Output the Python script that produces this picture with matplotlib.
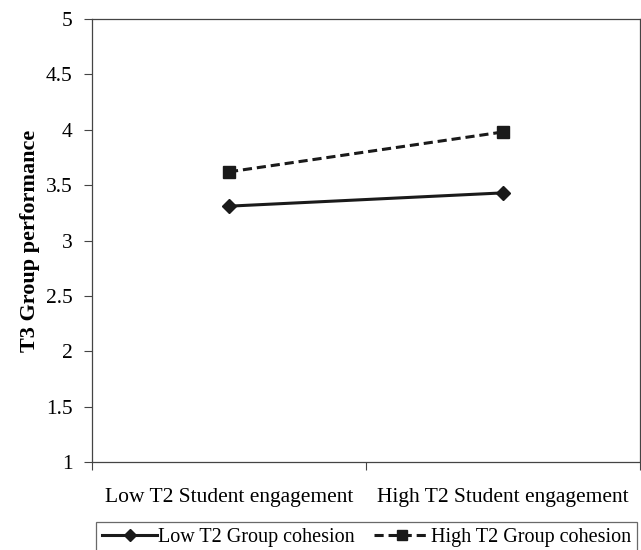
import matplotlib
matplotlib.use("Agg")
import matplotlib.pyplot as plt

categories = ["Low T2 Student engagement", "High T2 Student engagement"]
series_names = ["Low T2 Group cohesion", "High T2 Group cohesion"]
low_cohesion = [3.31, 3.43]
high_cohesion = [3.62, 3.98]
y_ticks = [1, 1.5, 2, 2.5, 3, 3.5, 4, 4.5, 5]
y_tick_labels = ["1", "1.5", "2", "2.5", "3", "3.5", "4", "4.5", "5"]

plt.rcParams['font.family'] = ['Liberation Serif', 'DejaVu Serif']

fig = plt.figure(figsize=(6.41, 5.5), dpi=100)
ax = fig.add_axes([92/641, 1-462/550, 1-92/641-1/641, (462-19)/550])

col = "#1a1a1a"
x = list(range(len(categories)))
ax.plot(x, low_cohesion, color=col, lw=2.2, marker='D', ms=7, label=series_names[0])
ax.plot(x, high_cohesion, color=col, lw=2.2, ls=(0, (3, 1.6)), marker='s', ms=8, label=series_names[1])

ax.set_ylim(1, 5)
ax.set_xlim(-0.5, 1.5)
ax.set_yticks(y_ticks)
ax.set_yticklabels(y_tick_labels, fontsize=15.5)
ax.set_xticks([-0.5, 0.5, 1.5])
ax.set_xticklabels([])
ax.set_xticks(x, minor=True)
ax.set_xticklabels(categories, minor=True, fontsize=15.5)
ax.tick_params(axis='x', which='minor', length=0, pad=19)
ax.tick_params(axis='x', which='major', length=6, width=0.8, direction='out', color='#444444')
ax.tick_params(axis='y', length=6, width=0.8, direction='out', color='#444444', pad=8)
for s in ax.spines.values():
    s.set_color('#444444')
    s.set_linewidth(0.9)

ax.set_ylabel("T3 Group performance", fontsize=16, fontweight='bold', labelpad=4)

leg = fig.legend(loc='upper left', bbox_to_anchor=(96/641, 1-522/550), ncol=2,
                 fontsize=14.5, frameon=True, fancybox=False, edgecolor='#444444',
                 handlelength=2.75, handletextpad=0.05, columnspacing=0.95,
                 borderpad=0.3, borderaxespad=0, markerscale=0.85)
leg.get_frame().set_linewidth(0.9)

fig.savefig("out.png", dpi=100)
